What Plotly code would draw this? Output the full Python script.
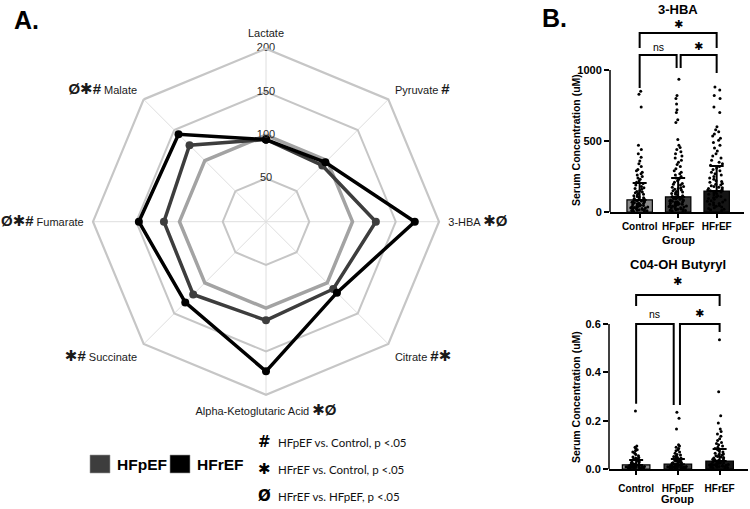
import plotly.graph_objects as go

# ---------------- Panel A data (radar, % of control) ----------------
categories = ["Lactate", "Pyruvate", "3-HBA", "Citrate",
              "Alpha-Ketoglutaric Acid", "Succinate", "Fumarate", "Malate"]
category_marks = ["", "#", "✱Ø", "#✱", "✱Ø", "✱#", "Ø✱#", "Ø✱#"]
mark_before = [False, False, False, False, False, True, True, True]
control_pct = [100, 100, 100, 100, 100, 100, 100, 100]
hfpef_pct = [95, 92, 127, 110, 114, 119, 118, 125]
hfref_pct = [95, 97, 172, 116, 173, 132, 147, 143]
radial_ticks = [50, 100, 150, 200]

legend_names = ["HFpEF", "HFrEF"]
legend_colors = ["#3d3d3d", "#000000"]

footnote_symbols = ["#", "✱", "Ø"]
footnote_texts = ["HFpEF vs. Control, p <.05",
                  "HFrEF vs. Control, p <.05",
                  "HFrEF vs. HFpEF, p <.05"]

# ---------------- Panel B data ----------------
groups = ["Control", "HFpEF", "HFrEF"]
bar_colors = ["#8a8a8a", "#3c3c3c", "#151515"]

hba_mean = [85, 106, 148]
hba_sd = [119, 134, 176]
hba_control = [850, 830, 740, 470, 440, 410, 385, 360, 340, 320, 300, 290, 280, 270,
               260, 250, 240, 230, 220, 210, 200, 190, 180, 170, 165, 160, 150, 145,
               140, 135, 130, 125, 120, 115, 110, 105, 100, 95, 92, 90, 85, 82, 80,
               78, 75, 72, 70, 68, 65, 62, 60, 58, 55, 52, 50, 48, 45, 42, 40, 38,
               36, 35, 32, 30, 28, 26, 25, 22, 20, 18, 16, 15, 12, 10, 8, 6, 5]
hba_hfpef = [935, 820, 800, 760, 720, 700, 650, 630, 510, 470, 455, 440, 425, 410,
             395, 380, 365, 350, 335, 320, 305, 290, 280, 270, 260, 250, 240, 230,
             220, 210, 200, 195, 190, 180, 175, 170, 165, 160, 155, 150, 145, 140,
             135, 130, 125, 120, 115, 110, 105, 100, 98, 95, 92, 90, 85, 82, 80,
             78, 75, 72, 70, 68, 65, 62, 60, 58, 55, 52, 50, 48, 45, 42, 40, 38,
             35, 32, 30, 28, 25, 22, 20, 18, 15, 12, 10, 8, 5]
hba_hfref = [880, 860, 820, 800, 740, 700, 600, 580, 565, 550, 535, 520, 505, 490,
             470, 450, 430, 410, 395, 380, 365, 350, 340, 330, 320, 310, 300, 290,
             280, 270, 260, 250, 240, 230, 220, 215, 210, 200, 195, 190, 185, 180,
             175, 170, 165, 160, 155, 150, 145, 140, 135, 130, 125, 120, 115, 110,
             105, 100, 95, 90, 85, 80, 75, 70, 65, 60, 55, 50, 45, 40, 35, 30, 25,
             20, 15, 10]

c04_mean = [0.017, 0.020, 0.033]
c04_sd = [0.020, 0.021, 0.050]
c04_control = [0.24, 0.095, 0.09, 0.085, 0.08, 0.075, 0.07, 0.065, 0.06, 0.055,
               0.05, 0.048, 0.045, 0.042, 0.04, 0.038, 0.035, 0.032, 0.03, 0.028,
               0.025, 0.024, 0.022, 0.02, 0.02, 0.018, 0.017, 0.016, 0.015, 0.014,
               0.013, 0.012, 0.012, 0.011, 0.01, 0.01, 0.009, 0.009, 0.008, 0.008,
               0.007, 0.007, 0.006, 0.006, 0.005, 0.005, 0.004, 0.004, 0.003, 0.002]
c04_hfpef = [0.235, 0.21, 0.165, 0.1, 0.095, 0.09, 0.085, 0.08, 0.075, 0.07,
             0.065, 0.06, 0.058, 0.055, 0.052, 0.05, 0.048, 0.045, 0.042, 0.04,
             0.038, 0.036, 0.035, 0.032, 0.03, 0.028, 0.026, 0.025, 0.024, 0.022,
             0.021, 0.02, 0.019, 0.018, 0.017, 0.016, 0.015, 0.014, 0.013, 0.012,
             0.012, 0.011, 0.01, 0.01, 0.009, 0.009, 0.008, 0.008, 0.007, 0.007,
             0.006, 0.006, 0.005, 0.005, 0.004, 0.004, 0.003, 0.002]
c04_hfref = [0.535, 0.32, 0.22, 0.19, 0.165, 0.155, 0.145, 0.135, 0.125, 0.118,
             0.11, 0.105, 0.1, 0.095, 0.09, 0.085, 0.08, 0.075, 0.07, 0.065, 0.062,
             0.06, 0.058, 0.055, 0.052, 0.05, 0.048, 0.045, 0.042, 0.04, 0.038,
             0.036, 0.035, 0.033, 0.032, 0.03, 0.028, 0.026, 0.025, 0.024, 0.022,
             0.021, 0.02, 0.019, 0.018, 0.017, 0.016, 0.015, 0.014, 0.013, 0.012,
             0.011, 0.01, 0.009, 0.008, 0.007, 0.006, 0.005, 0.004]

# brackets: (x_left, x_right, y_bar, y_drop_left, y_drop_right, label)
hba_brackets = [(0, 2, 1261, 1155, 1155, "✱"),
                (0, 0.96, 1106, 873, 1014, "ns"),
                (1.065, 2, 1106, 1014, 979, "✱")]
hba_label_y = [1318, 1165, 1165]
c04_brackets = [(0, 2, 0.72, 0.674, 0.674, "✱"),
                (0, 0.9, 0.60, 0.27, 0.265, "ns"),
                (1.05, 2, 0.60, 0.265, 0.567, "✱")]
c04_label_y = [0.775, 0.643, 0.643]

W, H = 750, 509
FONT = "Liberation Sans, Arial, DejaVu Sans"


def px(x):
    return x / W


def py(y):
    return 1 - y / H


def sym(s):
    return "<b><span style='font-size:15px'>" + s + "</span></b>"


tick_text = []
for c, m, before in zip(categories, category_marks, mark_before):
    if not m:
        tick_text.append(c)
    elif before:
        tick_text.append(sym(m) + " " + c)
    else:
        tick_text.append(c + " " + sym(m))

fig = go.Figure()

closed = categories + [categories[0]]
fig.add_trace(go.Scatterpolar(r=control_pct + [control_pct[0]], theta=closed,
                              mode="lines", line=dict(color="#a3a3a3", width=3.5),
                              showlegend=False, name="Control"))
fig.add_trace(go.Scatterpolar(r=hfpef_pct + [hfpef_pct[0]], theta=closed,
                              mode="lines+markers", line=dict(color=legend_colors[0], width=3.5),
                              marker=dict(size=8, color=legend_colors[0]),
                              showlegend=False, name="HFpEF"))
fig.add_trace(go.Scatterpolar(r=hfref_pct + [hfref_pct[0]], theta=closed,
                              mode="lines+markers", line=dict(color=legend_colors[1], width=3.5),
                              marker=dict(size=8, color=legend_colors[1]),
                              showlegend=False, name="HFrEF"))
fig.add_trace(go.Scatterpolar(r=radial_ticks, theta=[categories[0]] * len(radial_ticks),
                              mode="text", text=[str(t) for t in radial_ticks],
                              textfont=dict(family=FONT, size=11, color="#2a2a2a"),
                              marker=dict(color="#2a2a2a"),
                              showlegend=False, hoverinfo="skip"))


# ---------------- Panel B traces ----------------
def add_panel(xa, ya, means, sds, pts):
    fig.add_trace(go.Bar(x=[0, 1, 2], y=means, width=0.66, xaxis=xa, yaxis=ya,
                         marker=dict(color=bar_colors, line=dict(color="#000000", width=1.2)),
                         error_y=dict(type="data", symmetric=False, array=sds,
                                      arrayminus=[0, 0, 0], width=7, thickness=2,
                                      color="#000000"),
                         showlegend=False))
    for i, vals in enumerate(pts):
        fig.add_trace(go.Box(x=[i] * len(vals), y=vals, xaxis=xa, yaxis=ya,
                             boxpoints="all", jitter=0.9, pointpos=0, width=0.55,
                             fillcolor="rgba(0,0,0,0)",
                             line=dict(color="rgba(0,0,0,0)", width=0),
                             marker=dict(color="#000000", size=3),
                             showlegend=False))


add_panel("x", "y", hba_mean, hba_sd, [hba_control, hba_hfpef, hba_hfref])
add_panel("x2", "y2", c04_mean, c04_sd, [c04_control, c04_hfpef, c04_hfref])

shapes = []
annotations = []


def brackets(xr, yr, br, label_y):
    for (x0, x1, yb, yl, yr_, lab), ly in zip(br, label_y):
        shapes.append(dict(type="path", xref=xr, yref=yr,
                           path=f"M {x0},{yl} L {x0},{yb} L {x1},{yb} L {x1},{yr_}",
                           line=dict(color="#000000", width=2)))
        annotations.append(dict(xref=xr, yref=yr, x=(x0 + x1) / 2, y=ly, text=lab,
                                showarrow=False, xanchor="center", yanchor="middle",
                                font=dict(family=FONT if lab == "ns" else "DejaVu Sans",
                                          size=10.5 if lab == "ns" else 11,
                                          color="#000000")))


brackets("x", "y", hba_brackets, hba_label_y)
brackets("x2", "y2", c04_brackets, c04_label_y)

shapes.append(dict(type="line", xref="x domain", yref="y", x0=0, x1=0, y0=0, y1=1000,
                   line=dict(color="#000000", width=1.5)))
shapes.append(dict(type="line", xref="x2 domain", yref="y2", x0=0, x1=0, y0=0, y1=0.6,
                   line=dict(color="#000000", width=1.5)))

bold = dict(family=FONT, size=11, color="#000000", weight="bold")


def ann(x, y, text, font, xref="paper", **kw):
    d = dict(xref=xref, yref="paper", x=x, y=y, text=text, showarrow=False,
             xanchor="center", yanchor="middle", font=font)
    d.update(kw)
    annotations.append(d)


# legend (squares + labels)
for i, (name, col) in enumerate(zip(legend_names, legend_colors)):
    x0 = 90 + 80 * i
    shapes.append(dict(type="rect", xref="paper", yref="paper",
                       x0=px(x0), x1=px(x0 + 20), y0=py(473), y1=py(455),
                       fillcolor=col, line=dict(color="#9a9a9a", width=0.6)))
    ann(px(x0 + 25), py(464), name, dict(family=FONT, size=15.5, color="#000000", weight="bold"),
        xanchor="left")

ann(1, py(10), "3-HBA", dict(family=FONT, size=13, color="#000000", weight="bold"), xref="x")
ann(1, py(264), "C04-OH Butyryl", dict(family=FONT, size=13, color="#000000", weight="bold"), xref="x2")
ann(1, py(240), "Group", bold, xref="x")
ann(1, py(499), "Group", bold, xref="x2")
ann(px(576), py(140), "Serum Concentration (uM)", dict(bold, size=10.5), textangle=-90)
ann(px(576), py(397), "Serum Concentration (uM)", dict(bold, size=10.5), textangle=-90)
ann(px(12), py(20), "A.", dict(family=FONT, size=25, color="#000000", weight="bold"), xanchor="left")
ann(px(540), py(18), "B.", dict(family=FONT, size=25, color="#000000", weight="bold"), xanchor="left")
for i, (s, t) in enumerate(zip(footnote_symbols, footnote_texts)):
    yy = py(442 + 27 * i)
    ann(px(264), yy, "<b>" + s + "</b>", dict(family="DejaVu Sans", size=15, color="#000000"))
    ann(px(276), yy, t, dict(family="Lato, Liberation Sans", size=11.5, color="#111111"),
        xanchor="left")

axis_common = dict(showgrid=False, zeroline=False, ticks="outside", tickcolor="#000000",
                   tickwidth=1.5, tickfont=bold, tickangle=0)
xtickfont = dict(bold, size=10)

fig.update_layout(
    template="none",
    font=dict(family=FONT, color="#222222"),
    width=W, height=H, margin=dict(l=0, r=0, t=0, b=0),
    paper_bgcolor="white", plot_bgcolor="white",
    boxmode="overlay", showlegend=False,
    polar=dict(
        domain=dict(x=[px(93), px(439)], y=[py(395.7), py(47.7)]),
        bgcolor="white", gridshape="linear", hole=0,
        radialaxis=dict(range=[0, 200], tickvals=radial_ticks, showticklabels=False,
                        ticks="", showline=False, showgrid=True,
                        gridcolor="#c6c6c6", gridwidth=2.2, angle=90),
        angularaxis=dict(direction="clockwise", rotation=90, type="category",
                         categoryarray=categories,
                         tickmode="array", tickvals=categories, ticktext=tick_text,
                         tickfont=dict(family=FONT, size=11, color="#1a1a1a"),
                         ticks="outside", ticklen=6, tickcolor="rgba(0,0,0,0)",
                         showline=True, linecolor="#c6c6c6", linewidth=2.2,
                         showgrid=True, gridcolor="#dedede", gridwidth=1),
    ),
    xaxis=dict(domain=[px(610), px(744)], range=[-0.77, 2.71], tickvals=[0, 1, 2],
               anchor="y", ticktext=groups, showline=True, linecolor="#000000", linewidth=1.5,
               ticklen=4, **dict(axis_common, tickfont=xtickfont)),
    yaxis=dict(domain=[py(212), py(20)], range=[0, (212 - 20) / 0.142], tickvals=[0, 500, 1000],
               anchor="x", showline=False, ticklen=5, **axis_common),
    xaxis2=dict(domain=[px(609), px(748)], range=[-0.65, 2.68], tickvals=[0, 1, 2],
                anchor="y2", ticktext=groups, showline=True, linecolor="#000000", linewidth=1.5,
                ticklen=4, ticklabelstandoff=5, **dict(axis_common, tickfont=xtickfont)),
    yaxis2=dict(domain=[py(469), py(270)], range=[0, (469 - 270) / 241.7],
                tickvals=[0, 0.2, 0.4, 0.6], ticktext=["0.0", "0.2", "0.4", "0.6"],
                anchor="x2", showline=False, ticklen=5, **axis_common),
    shapes=shapes, annotations=annotations,
)

fig.write_html("out.html", config={"displayModeBar": False},
               post_script="document.body.style.margin='0px';")
